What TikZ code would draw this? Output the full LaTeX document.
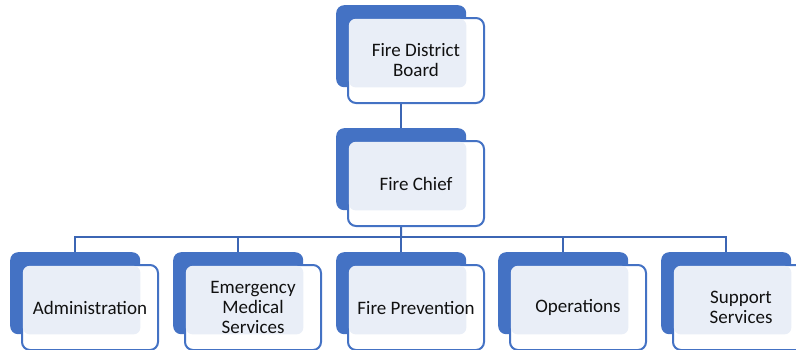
\documentclass[tikz,border=0pt]{standalone}
\usepackage{fontspec}
\setmainfont{Carlito}
\usetikzlibrary{backgrounds}
\definecolor{accblue}{HTML}{4472C4}
\definecolor{linkblue}{HTML}{3C66B4}
\definecolor{lightfill}{HTML}{E9EEF7}
\definecolor{txt}{HTML}{111111}
\tikzset{
  backbox/.style={fill=accblue, rounded corners=8pt, anchor=north west, minimum width=130pt, minimum height=82pt, inner sep=0pt},
  frontbox/.style={draw=accblue, line width=2pt, fill=white, rounded corners=8pt, anchor=north west, minimum width=136pt, minimum height=85pt, inner sep=0pt},
  lbl/.style={font=\fontsize{19}{20}\selectfont, text=txt, align=center, inner sep=0pt},
  link/.style={draw=linkblue, line width=2pt}
}
\newcommand{\orgunit}[4]{%
  \node[backbox] (b#1) at (#2,#3) {};
  \node[frontbox] (f#1) at (#2+11,#3+12) {};
  \fill[lightfill, rounded corners=7pt] ([shift={(1.8pt,-1.8pt)}]f#1.north west) rectangle (b#1.south east);
  \node[lbl] (t#1) at (f#1.center) {#4};
}
\begin{document}
\begin{tikzpicture}[x=1pt,y=-1pt]
\useasboundingbox (0,0) rectangle (796,349);
\orgunit{board}{336}{5}{Fire District\\Board}
\orgunit{chief}{336}{128}{Fire Chief}
\orgunit{adm}{10}{252}{Administration}
\orgunit{ems}{173}{252}{Emergency\\Medical\\Services}
\orgunit{prev}{336}{252}{Fire Prevention}
\orgunit{ops}{498}{252}{Operations}
\orgunit{sup}{661}{252}{Support\\Services}
\coordinate (bar) at (401,237);
\begin{pgfonlayer}{background}
\draw[link] (bboard.south) -- (bchief.north);
\draw[link] (bchief.south) -- (bar);
\foreach \c in {adm,ems,prev,ops,sup}{
  \draw[link] (bar) -| (b\c.north);
}
\end{pgfonlayer}
\end{tikzpicture}
\end{document}
